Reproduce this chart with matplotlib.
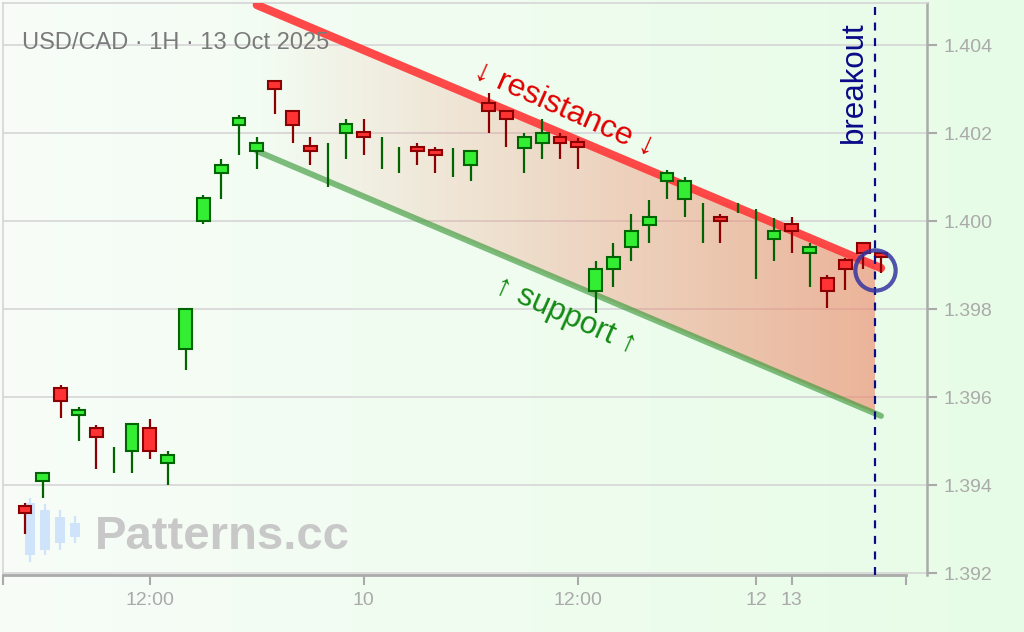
import numpy as np
import matplotlib
matplotlib.use('Agg')
import matplotlib.pyplot as plt
from matplotlib.patches import Rectangle, Polygon
from matplotlib.colors import LinearSegmentedColormap

plt.rcParams['font.family'] = ['Liberation Sans', 'DejaVu Sans']

# ---------------- data ----------------
title = 'USD/CAD · 1H · 13 Oct 2025'
opens = [1.39352, 1.39409, 1.39620, 1.39559, 1.39530, 1.39460, 1.39477, 1.39530, 1.39450, 1.39709,
         1.40000, 1.40109, 1.40218, 1.40159, 1.40319, 1.40251, 1.40170, 1.40130, 1.40200, 1.40202,
         1.40155, 1.40140, 1.40169, 1.40161, 1.40135, 1.40127, 1.40269, 1.40251, 1.40167, 1.40178,
         1.40192, 1.40180, 1.39842, 1.39890, 1.39940, 1.39991, 1.40092, 1.40051, 1.40000, 1.40010,
         1.40030, 1.39950, 1.39959, 1.39993, 1.39928, 1.39870, 1.39911, 1.39951, 1.39928]
highs = [1.39359, 1.39430, 1.39627, 1.39577, 1.39536, 1.39486, 1.39539, 1.39550, 1.39477, 1.39801,
         1.40059, 1.40141, 1.40241, 1.40191, 1.40320, 1.40251, 1.40190, 1.40177, 1.40232, 1.40232,
         1.40191, 1.40168, 1.40177, 1.40168, 1.40167, 1.40160, 1.40290, 1.40251, 1.40199, 1.40231,
         1.40199, 1.40189, 1.39909, 1.39950, 1.40017, 1.40047, 1.40117, 1.40099, 1.40040, 1.40017,
         1.40040, 1.40027, 1.40008, 1.40010, 1.39951, 1.39877, 1.39917, 1.39951, 1.39928]
lows = [1.39289, 1.39370, 1.39552, 1.39500, 1.39436, 1.39427, 1.39427, 1.39459, 1.39400, 1.39661,
        1.39993, 1.40051, 1.40151, 1.40119, 1.40243, 1.40178, 1.40128, 1.40078, 1.40142, 1.40151,
        1.40118, 1.40110, 1.40128, 1.40110, 1.40101, 1.40092, 1.40201, 1.40169, 1.40110, 1.40142,
        1.40142, 1.40119, 1.39792, 1.39851, 1.39910, 1.39951, 1.40051, 1.40010, 1.39951, 1.39951,
        1.40019, 1.39868, 1.39910, 1.39928, 1.39851, 1.39802, 1.39843, 1.39892, 1.39881]
closes = [1.39336, 1.39428, 1.39591, 1.39570, 1.39509, 1.39460, 1.39539, 1.39477, 1.39468, 1.39801,
          1.40052, 1.40128, 1.40233, 1.40178, 1.40300, 1.40218, 1.40158, 1.40130, 1.40220, 1.40192,
          1.40155, 1.40140, 1.40158, 1.40149, 1.40135, 1.40160, 1.40250, 1.40232, 1.40191, 1.40201,
          1.40178, 1.40168, 1.39891, 1.39919, 1.39978, 1.40010, 1.40108, 1.40092, 1.40000, 1.40000,
          1.40030, 1.39950, 1.39978, 1.39977, 1.39942, 1.39841, 1.39890, 1.39927, 1.39919]

x_tick_pos = [7, 19, 31, 41, 43]
x_tick_labels = ['12:00', '10', '12:00', '12', '13']
y_ticks = [1.392, 1.394, 1.396, 1.398, 1.400, 1.402, 1.404]

res_x = [13, 48]
res_y = [1.40491, 1.39893]
sup_x = [13, 48]
sup_y = [1.40159, 1.39557]
breakout_x = 47.66
breakout_price = 1.39889

# ---------------- figure ----------------
W, H = 1024, 632
fig = plt.figure(figsize=(W / 100, H / 100), dpi=100)

bg = fig.add_axes([0, 0, 1, 1], zorder=0)
bg.set_xlim(0, W)
bg.set_ylim(H, 0)
bg.axis('off')
c0 = np.array([0.972, 0.992, 0.972])
c1 = np.array([0.905, 0.992, 0.905])
t = np.linspace(0, 1, 256)
grad = (c0[None, :] * (1 - t[:, None]) + c1[None, :] * t[:, None])[None, :, :]
bg.imshow(grad, extent=[0, W, H, 0], aspect='auto', interpolation='bilinear')

# logo (decorative)
logo_col = '#cfe3fa'
for cx, bt, bb, wt, wb in [(30, 503, 555, 498, 562), (45, 510, 550, 504, 555),
                           (60, 517, 543, 510, 550), (75, 523, 537, 516, 543)]:
    bg.plot([cx, cx], [wt, wb], color=logo_col, lw=1.6, solid_capstyle='butt')
    bg.add_patch(Rectangle((cx - 5, bt), 10, bb - bt, fc=logo_col, ec='none'))
bg.text(95, 549, 'Patterns.cc', fontsize=34, fontweight='bold', color='#c8c8c8',
        ha='left', va='baseline')

# main axes
ax = fig.add_axes([3 / W, (H - 575) / H, 924 / W, 572 / H], zorder=1)
ax.patch.set_alpha(0)

xl, xr = -1.234, 50.58
yb, yt = 1.391955, 1.404955

# channel gradient fill
res_at = lambda x: np.interp(x, res_x, res_y)
sup_at = lambda x: np.interp(x, sup_x, sup_y)
verts = [(res_x[0], res_at(res_x[0])), (breakout_x, res_at(breakout_x)),
         (breakout_x, sup_at(breakout_x)), (sup_x[0], sup_at(sup_x[0]))]
poly = Polygon(verts, closed=True, fc='none', ec='none')
ax.add_patch(poly)
cmap = LinearSegmentedColormap.from_list(
    'chan', [(0.93, 0.50, 0.38, 0.0), (0.93, 0.50, 0.38, 0.58)])
im = ax.imshow(np.linspace(0, 1, 256)[None, :], cmap=cmap, aspect='auto',
               extent=[res_x[0], breakout_x, sup_at(breakout_x), res_at(res_x[0])],
               origin='lower', interpolation='bilinear', zorder=2)
im.set_clip_path(poly)

# channel lines
ax.plot(res_x, res_y, color='#ff3b3b', lw=6, alpha=0.92, solid_capstyle='round', zorder=3)
ax.plot(sup_x, sup_y, color='#3c9a3c', lw=4.3, alpha=0.65, solid_capstyle='round', zorder=3)

# candles
w = 0.72
for i, (o, h, l, c) in enumerate(zip(opens, highs, lows, closes)):
    up = c >= o
    ec = '#006400' if up else '#8b0000'
    fc = '#33ee33' if up else '#ff3333'
    ax.plot([i, i], [l, h], color=ec, lw=1.6, solid_capstyle='butt', zorder=4)
    if abs(c - o) > 1e-7:
        ax.add_patch(Rectangle((i - w / 2, min(o, c)), w, abs(c - o), fc=fc, ec=ec,
                               lw=1.5, zorder=5))

# breakout
ax.axvline(breakout_x, color='#0a0a88', lw=1.6, linestyle=(0, (3.6, 3.4)), zorder=6)
ax.plot([breakout_x], [breakout_price], 'o', ms=29, mfc='none', mec='#3535a0',
        mew=3, alpha=0.85, zorder=7)
ax.text(46.49, 1.40316, 'breakout', rotation=90, fontsize=22.5, color='#0a0a88',
        ha='center', va='center', zorder=8)

ax.text(30.3, 1.40255, '↓ resistance ↓', rotation=-24, rotation_mode='anchor',
        fontsize=23, color='#e00000', ha='center', va='center', zorder=8)
ax.text(30.3, 1.39786, '↑ support ↑', rotation=-24, rotation_mode='anchor',
        fontsize=22.5, color='#138a13', ha='center', va='center', zorder=8)

# axes styling
ax.set_xlim(xl, xr)
ax.set_ylim(yb, yt)
ax.yaxis.tick_right()
ax.set_yticks(y_ticks)
ax.set_yticklabels([f'{v:.3f}' for v in y_ticks])
ax.set_xticks([xl + 0.001] + x_tick_pos + [49.4])
ax.set_xticklabels([''] + x_tick_labels + [''])
ax.tick_params(axis='y', direction='out', length=7, width=1.5, color='#aaaaaa',
               labelcolor='#aaaaaa', labelsize=14, pad=5)
ax.tick_params(axis='x', direction='out', length=7, width=1.5, color='#aaaaaa',
               labelcolor='#aaaaaa', labelsize=14, pad=5)
ax.yaxis.grid(True, color='#d8d8d8', lw=1.3)
ax.set_axisbelow(True)
for s in ['left', 'top']:
    ax.spines[s].set_color('#d5d5d5')
    ax.spines[s].set_linewidth(1.2)
ax.spines['right'].set_color('#aaaaaa')
ax.spines['right'].set_linewidth(1.8)
ax.spines['bottom'].set_color('#aaaaaa')
ax.spines['bottom'].set_linewidth(2)
ax.spines['bottom'].set_bounds(xl, 49.4)

# title drawn above everything
fig.text(22 / W, 1 - 49 / H, title, fontsize=17, color='#7a7a7a', ha='left',
         va='baseline', zorder=10)

fig.savefig('out.png', dpi=100)
